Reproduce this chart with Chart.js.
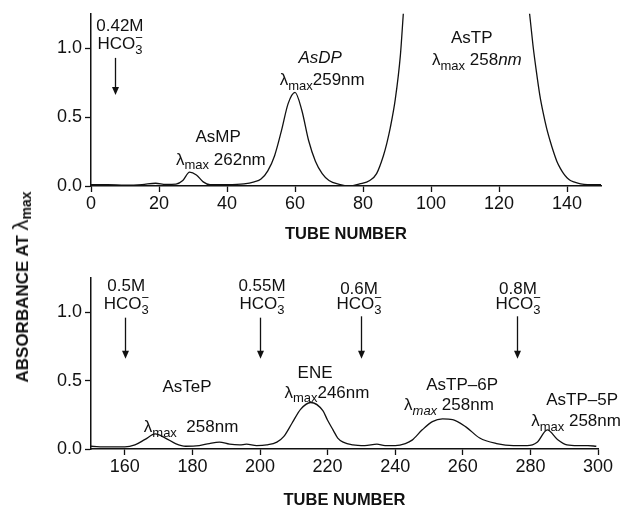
<!DOCTYPE html>
<html>
<head>
<meta charset="utf-8">
<script src="https://cdn.jsdelivr.net/npm/chart.js@4.4.1/dist/chart.umd.min.js"></script>
<style>
  html, body { margin: 0; padding: 0; background: #fff; overflow: hidden; }
  #wrap { position: relative; width: 623px; height: 509px; }
  #c1 { position: absolute; left: 0; top: 0; }
  #c2 { position: absolute; left: 0; top: 250px; }
  #ytitle {
    position: absolute; left: 21px; top: 287px;
    transform: translate(-50%, -50%) rotate(-90deg);
    white-space: nowrap;
    font: bold 17px "Liberation Sans", Arial, sans-serif;
    color: #111;
  }
  #ytitle .lam { font-size: 22px; font-weight: normal; }
  #ytitle sub { font-size: 14px; vertical-align: -3px; }
</style>
</head>
<body>
<div id="wrap">
  <canvas id="c1" width="623" height="250"></canvas>
  <canvas id="c2" width="623" height="259"></canvas>
  <div id="ytitle">ABSORBANCE AT <span class="lam">λ</span><sub>max</sub></div>
</div>
<script>
// Top run: tubes 0-150
const tubesTop = [0, 5, 10, 15, 19, 22, 25, 27, 29, 31, 33, 35, 40, 45, 48, 50, 52, 54, 56, 58, 60, 62, 64, 66, 68, 70, 73, 76, 79, 82, 84, 86, 87, 88, 89.5, 91, 92, 94, 100, 110, 120, 126, 128, 129, 130, 131, 132, 133, 134, 135, 136, 137, 138, 139, 140, 141, 142, 144, 146, 150];
const absTop = [0.01, 0.01, 0.006, 0.01, 0.02, 0.012, 0.014, 0.04, 0.10, 0.08, 0.03, 0.01, 0.01, 0.015, 0.03, 0.05, 0.11, 0.22, 0.40, 0.60, 0.68, 0.55, 0.33, 0.18, 0.09, 0.04, 0.012, 0.0, 0.015, 0.04, 0.09, 0.22, 0.31, 0.42, 0.63, 0.95, 1.3, 1.9, 2.2, 2.4, 2.3, 1.8, 1.5, 1.25, 1.02, 0.83, 0.66, 0.53, 0.42, 0.33, 0.25, 0.18, 0.13, 0.09, 0.06, 0.04, 0.03, 0.015, 0.01, 0.01];

// Bottom run: tubes 150-300
const tubesBottom = [150, 155, 160, 163, 166, 169, 172, 175, 178, 182, 185, 188, 191, 194, 196, 199, 202, 205, 207, 209.5, 212, 215, 218.6, 220, 221.6, 223, 224.6, 227.5, 231, 234.6, 237, 240, 243, 245, 248, 251, 254, 257, 261, 265, 270, 275, 279, 282, 285, 288, 290.8, 294, 297, 299.5];
const absBottom = [0.02, 0.015, 0.015, 0.03, 0.07, 0.11, 0.08, 0.04, 0.02, 0.025, 0.04, 0.05, 0.035, 0.03, 0.035, 0.025, 0.03, 0.05, 0.09, 0.19, 0.29, 0.34, 0.28, 0.21, 0.14, 0.08, 0.05, 0.03, 0.025, 0.035, 0.025, 0.025, 0.04, 0.065, 0.14, 0.2, 0.22, 0.215, 0.16, 0.08, 0.04, 0.025, 0.025, 0.05, 0.14, 0.07, 0.03, 0.025, 0.025, 0.02];

// tick labels
const yTicks = [0, 0.5, 1.0];
const xTicksTop = [0, 20, 40, 60, 80, 100, 120, 140];
const xTicksBottom = [160, 180, 200, 220, 240, 260, 280, 300];

const FONT = '"Liberation Sans", Arial, Helvetica, sans-serif';

// peak labels and eluent arrows (data coordinates)
const notesTop = [
  { x: 8.5, y: 1.16, segs: [{ t: '0.42M' }] },
  { x: 8.5, y: 1.03, segs: [{ t: 'HCO' }, { t: '3', sub: true, over: '−' }] },
  { x: 37.4, y: 0.35, segs: [{ t: 'AsMP' }] },
  { x: 38.2, y: 0.19, segs: [{ t: 'λ' }, { t: 'max', sub: true }, { t: ' 262nm' }] },
  { x: 67.4, y: 0.93, segs: [{ t: 'AsDP', italic: true }] },
  { x: 68, y: 0.77, segs: [{ t: 'λ' }, { t: 'max', sub: true }, { t: '259nm' }] },
  { x: 112, y: 1.07, segs: [{ t: 'AsTP' }] },
  { x: 113.5, y: 0.91, segs: [{ t: 'λ' }, { t: 'max', sub: true }, { t: ' 258' }, { t: 'nm', italic: true }] }
];
const arrowsTop = [{ x: 7, from: 0.93, to: 0.66 }];

const notesBottom = [
  { x: 160.4, y: 1.19, segs: [{ t: '0.5M' }] },
  { x: 160.4, y: 1.06, segs: [{ t: 'HCO' }, { t: '3', sub: true, over: '−' }] },
  { x: 200.6, y: 1.19, segs: [{ t: '0.55M' }] },
  { x: 200.6, y: 1.06, segs: [{ t: 'HCO' }, { t: '3', sub: true, over: '−' }] },
  { x: 229.3, y: 1.17, segs: [{ t: '0.6M' }] },
  { x: 229.3, y: 1.06, segs: [{ t: 'HCO' }, { t: '3', sub: true, over: '−' }] },
  { x: 276.3, y: 1.17, segs: [{ t: '0.8M' }] },
  { x: 276.3, y: 1.06, segs: [{ t: 'HCO' }, { t: '3', sub: true, over: '−' }] },
  { x: 178.4, y: 0.45, segs: [{ t: 'AsTeP' }] },
  { x: 179.6, y: 0.16, segs: [{ t: 'λ' }, { t: 'max', sub: true }, { t: '  258nm' }] },
  { x: 216.3, y: 0.55, segs: [{ t: 'ENE' }] },
  { x: 219.8, y: 0.41, segs: [{ t: 'λ' }, { t: 'max', sub: true }, { t: '246nm' }] },
  { x: 259.8, y: 0.465, segs: [{ t: 'AsTP–6P' }] },
  { x: 255.9, y: 0.32, segs: [{ t: 'λ' }, { t: 'max', sub: true, italic: true }, { t: ' 258nm' }] },
  { x: 295.3, y: 0.356, segs: [{ t: 'AsTP–5P' }] },
  { x: 293.5, y: 0.2, segs: [{ t: 'λ' }, { t: 'max', sub: true }, { t: ' 258nm' }] }
];
const arrowsBottom = [
  { x: 160, from: 0.96, to: 0.66 },
  { x: 200, from: 0.96, to: 0.66 },
  { x: 230, from: 0.97, to: 0.66 },
  { x: 276, from: 0.97, to: 0.66 }
];

function segFont(s) {
  return (s.italic ? 'italic ' : '') + (s.sub ? '13px ' : '17px ') + FONT;
}

function drawRich(ctx, segs, cx, cy) {
  let w = 0;
  segs.forEach(s => { ctx.font = segFont(s); w += ctx.measureText(s.t).width; });
  let x = cx - w / 2;
  segs.forEach(s => {
    ctx.font = segFont(s);
    ctx.fillText(s.t, x, cy + (s.sub ? 6 : 0));
    if (s.over) ctx.fillText(s.over, x, cy - 6);
    x += ctx.measureText(s.t).width;
  });
}

const notesPlugin = {
  id: 'notes',
  afterDraw(chart, args, opts) {
    const ctx = chart.ctx;
    const xs = chart.scales.x, ys = chart.scales.y;
    ctx.save();
    ctx.fillStyle = '#111';
    ctx.strokeStyle = '#111';
    ctx.textBaseline = 'middle';
    ctx.textAlign = 'left';
    opts.notes.forEach(n => drawRich(ctx, n.segs, xs.getPixelForValue(n.x), ys.getPixelForValue(n.y)));
    opts.arrows.forEach(a => {
      const px = Math.round(xs.getPixelForValue(a.x)) + 0.5;
      const y1 = ys.getPixelForValue(a.from), y2 = ys.getPixelForValue(a.to);
      ctx.lineWidth = 1.3;
      ctx.beginPath();
      ctx.moveTo(px, y1);
      ctx.lineTo(px, y2 - 6);
      ctx.stroke();
      ctx.beginPath();
      ctx.moveTo(px - 3.5, y2 - 8);
      ctx.lineTo(px + 3.5, y2 - 8);
      ctx.lineTo(px, y2);
      ctx.closePath();
      ctx.fill();
    });
    ctx.restore();
  }
};

function makeChart(id, xs, ys, xMin, xMax, xTicks, notes, arrows, padTop, padRight, xHeight, titlePad) {
  return new Chart(document.getElementById(id), {
    type: 'line',
    data: {
      datasets: [{
        data: xs.map((x, i) => ({ x: x, y: ys[i] })),
        borderColor: '#111',
        borderWidth: 1.3,
        pointRadius: 0,
        cubicInterpolationMode: 'monotone',
        fill: false
      }]
    },
    options: {
      responsive: false,
      animation: false,
      layout: { padding: { top: padTop, right: padRight, left: 0, bottom: 0 } },
      plugins: {
        legend: { display: false },
        tooltip: { enabled: false },
        notes: { notes: notes, arrows: arrows }
      },
      scales: {
        x: {
          type: 'linear',
          min: xMin,
          max: xMax,
          afterBuildTicks: s => { s.ticks = xTicks.map(v => ({ value: v })); },
          afterFit: s => { s.height = xHeight; },
          grid: { drawOnChartArea: false, drawTicks: true, tickLength: 6, tickColor: '#111', tickWidth: 1.3 },
          border: { display: true, color: '#111', width: 1.5 },
          ticks: { color: '#111', padding: 1, maxRotation: 0, font: { family: FONT, size: 18 } },
          title: {
            display: true,
            text: 'TUBE NUMBER',
            color: '#111',
            font: { family: FONT, size: 16.5, weight: 'bold', lineHeight: 1 },
            padding: { top: 0, bottom: titlePad }
          }
        },
        y: {
          min: 0,
          max: 1.25,
          afterBuildTicks: s => { s.ticks = yTicks.map(v => ({ value: v })); },
          afterFit: s => { s.width = 91; },
          grid: { drawOnChartArea: false, drawTicks: true, tickLength: 6, tickColor: '#111', tickWidth: 1.3 },
          border: { display: true, color: '#111', width: 1.5 },
          ticks: { color: '#111', padding: 3, font: { family: FONT, size: 18 }, callback: v => v.toFixed(1) }
        }
      }
    },
    plugins: [notesPlugin]
  });
}

makeChart('c1', tubesTop, absTop, 0, 150, xTicksTop, notesTop, arrowsTop, 13, 22, 64, 7);
makeChart('c2', tubesBottom, absBottom, 150, 300, xTicksBottom, notesBottom, arrowsBottom, 28, 25, 60, 0);
</script>
</body>
</html>
